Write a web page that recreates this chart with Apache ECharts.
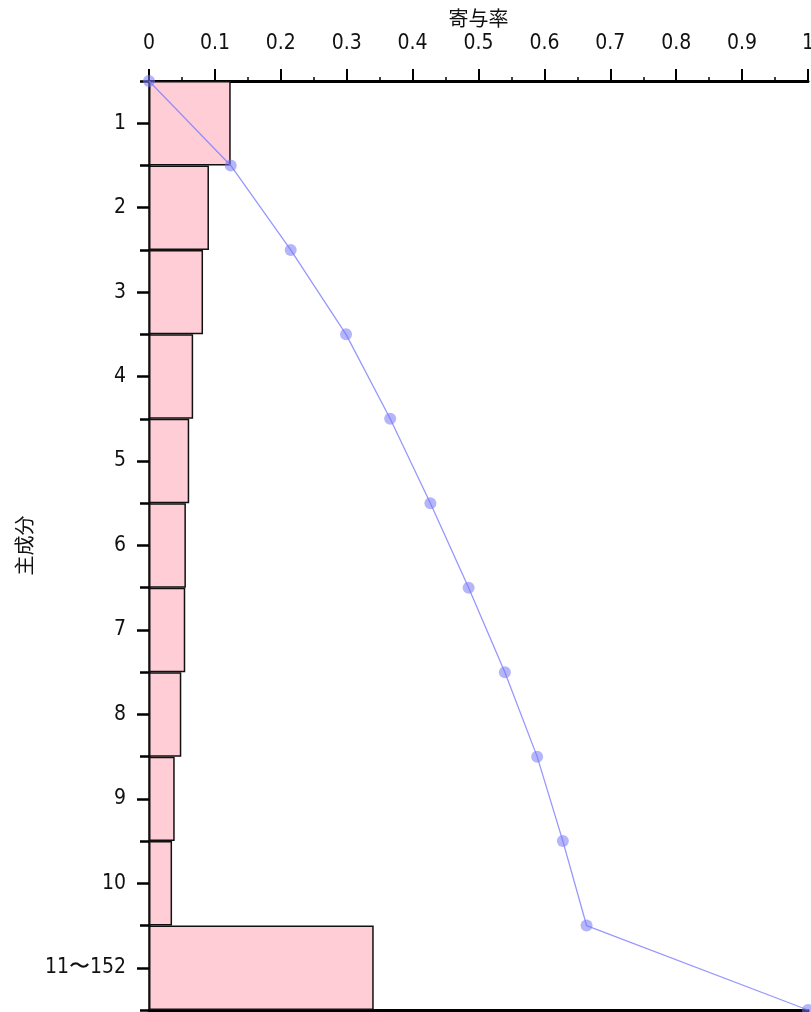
<!DOCTYPE html>
<html>
<head>
<meta charset="utf-8">
<script src="https://cdn.jsdelivr.net/npm/echarts@6/dist/echarts.min.js"></script>
<style>
  html, body { margin: 0; padding: 0; background: #fff; }
  #chart { width: 811px; height: 1012px; }
</style>
</head>
<body>
<div id="chart"></div>
<script>
// Principal components (rows) and their contribution ratios
const components = ['1', '2', '3', '4', '5', '6', '7', '8', '9', '10', '11〜152'];
const contribution = [0.124, 0.091, 0.082, 0.067, 0.061, 0.056, 0.055, 0.049, 0.039, 0.035, 0.341];
// Cumulative contribution at each row boundary (boundary index 0..11)
const boundaryIndex = [0, 1, 2, 3, 4, 5, 6, 7, 8, 9, 10, 11];
const cumulative = [0, 0.124, 0.215, 0.299, 0.366, 0.427, 0.485, 0.540, 0.589, 0.628, 0.664, 1.0];

const FONT = "'DejaVu Sans Condensed', 'DejaVu Sans', sans-serif";
const CJK = "'Noto Sans CJK JP', sans-serif";

const chart = echarts.init(document.getElementById('chart'), null, { renderer: 'canvas' });

chart.setOption({
  animation: false,
  backgroundColor: '#ffffff',
  grid: { left: 149, top: 81, right: 3, bottom: 2, containLabel: false, outerBoundsMode: 'none' },
  xAxis: [
    {
      type: 'value',
      position: 'top',
      min: 0,
      max: 1,
      interval: 0.1,
      name: '寄与率',
      nameLocation: 'middle',
      nameGap: 52,
      nameTextStyle: { color: '#111', fontSize: 20, fontFamily: CJK },
      axisLine: { show: true, lineStyle: { color: '#000', width: 3 } },
      axisTick: { show: true, length: 12, lineStyle: { color: '#000', width: 2 } },
      minorTick: { show: true, splitNumber: 2, length: 4, lineStyle: { color: '#000', width: 1.5 } },
      splitLine: { show: false },
      axisLabel: {
        margin: 27,
        color: '#111',
        fontSize: 21,
        fontFamily: FONT,
        formatter: v => (v === 0 || v === 1) ? String(v) : v.toFixed(1)
      }
    },
    {
      type: 'value',
      position: 'bottom',
      min: 0,
      max: 1,
      interval: 0.1,
      axisLine: { show: true, lineStyle: { color: '#000', width: 3 } },
      axisTick: { show: true, length: 6, lineStyle: { color: '#000', width: 2 } },
      axisLabel: { show: false },
      splitLine: { show: false }
    }
  ],
  yAxis: [
    {
      type: 'category',
      data: components,
      inverse: true,
      position: 'left',
      name: '主成分',
      nameLocation: 'middle',
      nameGap: 112,
      nameRotate: 90,
      nameTextStyle: { color: '#111', fontSize: 20, fontFamily: CJK },
      axisLine: { show: true, lineStyle: { color: '#000', width: 2.5 } },
      axisTick: { show: true, alignWithLabel: true, length: 12, lineStyle: { color: '#000', width: 2.5 } },
      axisLabel: { margin: 23, color: '#111', fontSize: 21, fontFamily: FONT }
    },
    {
      type: 'value',
      min: 0,
      max: 11,
      interval: 1,
      inverse: true,
      position: 'left',
      axisLine: { show: false },
      axisTick: { show: true, length: 9, lineStyle: { color: '#000', width: 2.5 } },
      axisLabel: { show: false },
      splitLine: { show: false }
    }
  ],
  series: [
    {
      name: '寄与率',
      type: 'bar',
      xAxisIndex: 0,
      yAxisIndex: 0,
      data: contribution,
      barCategoryGap: '0%',
      itemStyle: { color: '#ffcdd6', borderColor: '#111', borderWidth: 1.5 },
      z: 2
    },
    {
      name: '累積寄与率',
      type: 'line',
      xAxisIndex: 0,
      yAxisIndex: 1,
      data: boundaryIndex.map((b, i) => [cumulative[i], b]),
      symbol: 'circle',
      symbolSize: 12,
      lineStyle: { color: 'rgba(125,125,255,0.8)', width: 1.3 },
      itemStyle: { color: 'rgba(120,120,245,0.55)', borderWidth: 0 },
      z: 5
    }
  ]
});
</script>
</body>
</html>
